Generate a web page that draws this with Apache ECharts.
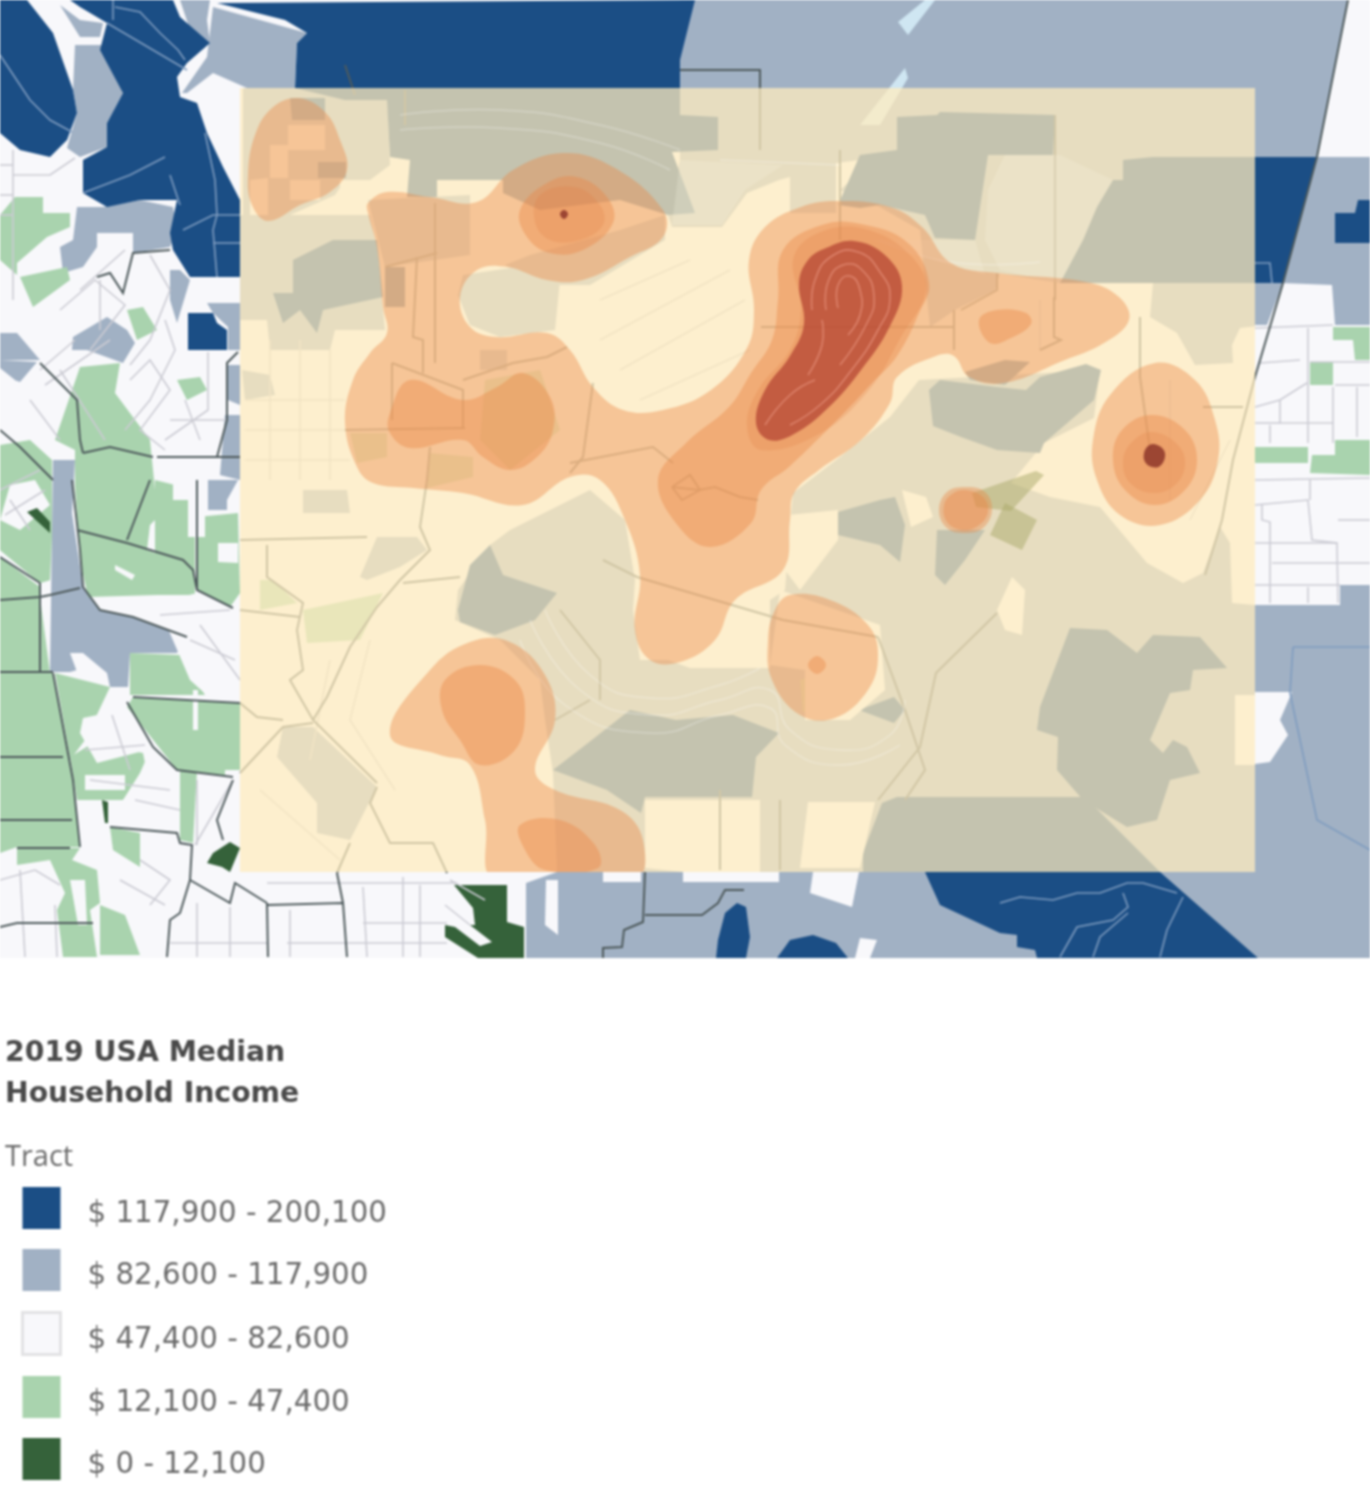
<!DOCTYPE html>
<html><head><meta charset="utf-8">
<script src="https://cdn.jsdelivr.net/npm/echarts@6/dist/echarts.min.js"></script>
<style>html,body{margin:0;padding:0;background:#fff}#chart{width:1370px;height:1500px;filter:blur(.9px)}</style>
</head><body><div id="chart"></div>
<script>
const legendTitle='2019 USA Median\nHousehold Income';
const legendSub='Tract';
const incomeClasses=['$ 117,900 - 200,100','$ 82,600 - 117,900','$ 47,400 - 82,600','$ 12,100 - 47,400','$ 0 - 12,100'];
const mapBase=[[[0,0],[1370,0],[1370,958],[0,958]]];
const overlayRect=[[[240,88],[1255,88],[1255,872],[240,872]]];

const tractsSlate=[
 [[680,0],[1348,0],[1317,157],[1370,157],[1370,325],[1335,325],[1332,285],[1282,283],[1060,283],[997,273],[950,265],[920,230],[876,205],[840,190],[876,158],[836,163],[836,213],[790,213],[790,177],[779,180],[747,193],[722,227],[672,227],[668,215],[680,160]],
 [[1153,283],[1283,283],[1267,325],[1240,328],[1232,345],[1233,363],[1195,365],[1177,333],[1150,317]],
 [[790,527],[793,493],[840,457],[890,417],[919,380],[1100,370],[1094,418],[1044,443],[1011,483],[1050,497],[1100,507],[1147,563],[1183,583],[1203,573],[1220,527],[1230,543],[1232,603],[1255,605],[1340,605],[1340,585],[1370,585],[1370,958],[526,958],[526,883],[557,872],[553,773],[545,720],[540,680],[500,640],[455,620],[458,590],[490,545],[510,530],[560,505],[590,490],[625,520],[635,580],[633,610],[640,660],[668,660],[690,668],[770,668],[770,600],[785,590]],
 [[243,88],[387,88],[390,165],[370,180],[345,180],[335,195],[290,215],[243,235]],
 [[240,215],[370,215],[377,247],[385,330],[335,330],[330,350],[270,350],[267,320],[240,320]],
 [[303,490],[347,490],[350,513],[303,513]],
 [[360,577],[377,537],[417,537],[427,550],[400,567],[367,580]],
 [[283,727],[313,727],[377,787],[350,840],[317,833],[317,803],[277,757]],
 [[463,275],[510,268],[560,280],[555,330],[500,337],[470,325],[458,295]],
 [[480,350],[507,350],[507,370],[480,370]],
 [[242,370],[270,375],[275,395],[245,400]],
 [[368,200],[470,195],[470,255],[385,267]],
 [[505,265],[530,255],[620,230],[665,215],[665,240],[590,285],[545,285]],
 [[920,230],[1000,273],[995,290],[955,310],[930,327],[925,280]],
 [[75,45],[105,45],[123,93],[107,123],[107,147],[80,157],[67,148],[77,113],[73,90]],
 [[77,207],[103,207],[140,200],[173,207],[177,230],[170,247],[133,253],[133,233],[97,233],[97,247],[83,267],[63,273],[60,247],[73,240]],
 [[213,7],[307,33],[297,43],[295,88],[247,88],[213,73],[187,93],[182,93],[207,57]],
 [[180,0],[210,0],[207,20],[210,43],[190,30]],
 [[60,5],[80,20],[103,23],[100,37],[80,37]],
 [[73,337],[107,317],[127,330],[135,343],[123,363],[87,350],[72,350]],
 [[0,333],[17,333],[40,360],[0,360]],
 [[0,360],[37,362],[20,382],[0,375]],
 [[170,270],[180,270],[190,280],[177,323],[170,300]],
 [[207,303],[240,303],[240,350],[228,350],[228,327],[213,313]],
 [[228,365],[240,365],[240,405],[228,400]],
 [[225,415],[240,415],[240,480],[220,475]],
 [[208,480],[238,480],[227,500],[227,510],[208,510]],
 [[53,460],[75,460],[72,513],[83,587],[100,610],[133,617],[187,637],[177,653],[130,653],[128,687],[110,687],[107,673],[77,670],[70,672],[50,672]]
];
const tractsNavy=[
 [[0,0],[27,0],[53,33],[73,90],[77,113],[67,140],[50,157],[20,150],[0,133]],
 [[70,0],[173,0],[180,17],[210,43],[187,63],[177,77],[180,97],[197,103],[207,133],[223,167],[240,200],[240,277],[190,277],[173,250],[170,233],[177,200],[140,200],[107,207],[83,193],[83,160],[107,147],[107,123],[123,93],[100,50],[107,23],[80,7]],
 [[217,3],[285,20],[307,33],[297,43],[295,88],[345,100],[387,100],[390,157],[410,160],[407,197],[437,197],[437,180],[503,180],[503,193],[540,210],[620,200],[668,215],[695,213],[672,152],[718,150],[718,117],[680,115],[680,60],[695,0]],
 [[838,205],[860,155],[897,150],[897,117],[937,115],[940,112],[1055,115],[1053,155],[988,155],[975,240],[935,238],[925,215],[880,205],[860,208]],
 [[1113,180],[1123,180],[1123,160],[1153,157],[1317,157],[1283,283],[1060,283],[1083,240],[1097,207]],
 [[929,390],[940,380],[997,387],[1026,390],[1040,377],[1086,364],[1101,370],[1094,400],[1044,443],[1040,453],[997,450],[961,437],[933,426]],
 [[965,372],[1005,360],[1030,362],[1005,385],[970,380]],
 [[838,512],[880,500],[895,497],[905,525],[900,562],[880,545],[838,535]],
 [[937,530],[985,530],[965,560],[945,585],[935,575]],
 [[458,610],[470,565],[490,545],[503,575],[557,593],[535,620],[495,635],[460,622]],
 [[553,770],[588,743],[630,710],[676,720],[733,715],[779,733],[756,757],[752,797],[645,797],[641,813],[607,790]],
 [[859,710],[894,697],[905,710],[894,723]],
 [[863,853],[882,803],[897,797],[1085,797],[1160,872],[863,872]],
 [[1037,730],[1040,707],[1070,628],[1107,630],[1137,653],[1153,635],[1200,637],[1227,668],[1193,670],[1190,690],[1170,693],[1150,740],[1163,753],[1173,740],[1187,747],[1200,773],[1170,780],[1157,820],[1127,827],[1083,800],[1057,770],[1058,737]],
 [[293,260],[333,240],[377,240],[383,297],[323,310],[317,333],[300,310],[283,323],[273,293],[293,293]],
 [[385,267],[405,267],[405,307],[385,307]],
 [[290,98],[325,98],[325,120],[292,120]],
 [[318,162],[346,162],[346,178],[318,178]],
 [[188,313],[213,313],[217,323],[227,330],[227,350],[188,350]],
 [[1335,213],[1355,213],[1358,200],[1370,200],[1370,243],[1335,243]],
 [[725,913],[737,903],[746,907],[750,937],[746,958],[716,958],[718,940]],
 [[777,958],[790,940],[813,935],[836,943],[848,958]],
 [[925,872],[1160,872],[1258,958],[1037,958],[1035,950],[1017,947],[1017,935],[1000,933],[940,905]]
];
const tractsGreen=[
 [[15,197],[43,197],[43,213],[70,213],[70,227],[47,237],[17,263],[17,275],[0,260],[0,215]],
 [[20,277],[67,267],[70,280],[33,307]],
 [[80,367],[120,363],[115,393],[150,440],[155,490],[155,480],[195,490],[195,595],[157,595],[88,597],[80,560],[75,487],[75,450],[55,440]],
 [[127,310],[143,307],[157,330],[137,340]],
 [[177,380],[200,377],[207,390],[187,400]],
 [[0,445],[30,440],[52,460],[52,537],[50,580],[40,583],[0,550]],
 [[0,550],[17,523],[50,537],[50,580],[40,583]],
 [[0,557],[40,587],[40,597],[0,600]],
 [[0,600],[40,597],[50,673],[0,673]],
 [[0,673],[53,673],[73,780],[80,847],[17,847],[0,853]],
 [[197,517],[238,513],[240,593],[230,607],[197,590]],
 [[130,653],[180,655],[205,695],[130,695]],
 [[133,697],[240,703],[240,777],[177,770],[127,707]],
 [[55,673],[110,687],[85,740],[70,760]],
 [[70,757],[93,743],[143,753],[147,773],[123,800],[77,800]],
 [[110,827],[140,833],[140,867],[113,850]],
 [[180,770],[197,770],[193,843],[180,840]],
 [[17,848],[80,848],[72,860],[97,870],[100,903],[90,910],[97,957],[63,957],[57,910],[65,893],[50,860],[17,865]],
 [[100,905],[125,915],[140,955],[100,955]],
 [[1333,327],[1370,327],[1370,360],[1355,360],[1353,340],[1333,340]],
 [[1310,362],[1333,362],[1333,385],[1310,385]],
 [[1255,447],[1308,447],[1308,463],[1255,463]],
 [[1312,455],[1335,455],[1335,440],[1370,440],[1370,475],[1310,473]],
 [[303,610],[383,593],[360,640],[307,643]],
 [[260,580],[273,580],[297,603],[260,610]],
 [[485,380],[540,370],[560,430],[510,470],[480,440]],
 [[350,433],[387,433],[387,457],[357,463]],
 [[430,453],[473,457],[473,477],[427,488]],
 [[800,680],[815,675],[820,710],[803,712]]
];
const tractsWhite=[
 [[788,515],[838,510],[838,540],[800,590],[785,570]],
 [[780,590],[880,625],[885,690],[850,720],[805,720],[805,670],[770,665]],
 [[997,610],[1012,577],[1025,590],[1022,635],[1005,630]],
 [[902,490],[926,497],[933,517],[911,527]],
 [[645,800],[760,800],[760,880],[645,868]],
 [[808,802],[875,802],[860,868],[800,868]],
 [[603,872],[641,872],[641,882],[603,882]],
 [[683,872],[779,872],[779,882],[683,882]],
 [[813,872],[859,872],[852,907],[810,893]],
 [[546,880],[558,880],[558,935],[545,925]],
 [[860,938],[877,940],[870,958],[855,958]],
 [[1255,692],[1292,692],[1280,720],[1288,735],[1270,762],[1255,764]],
 [[1235,695],[1255,695],[1255,765],[1235,765]],
 [[288,125],[325,125],[325,150],[288,150]],
 [[270,145],[288,145],[288,178],[270,178]],
 [[290,180],[320,180],[320,200],[290,200]],
 [[250,180],[268,178],[268,215],[250,215]],
 [[340,180],[367,180],[367,213],[340,213]],
 [[1255,325],[1333,325],[1333,362],[1255,362]],
 [[150,525],[155,520],[155,553],[147,550]],
 [[218,543],[238,543],[238,563],[218,562]],
 [[173,480],[205,480],[205,537],[188,537],[188,500],[173,500]],
 [[115,565],[135,575],[132,580],[115,570]],
 [[70,653],[83,653],[107,673],[107,685],[77,672]],
 [[108,698],[125,698],[125,710],[147,750],[97,763],[80,733],[83,718],[107,713]],
 [[147,757],[177,773],[180,830],[113,823],[107,813],[77,800],[123,800],[140,773]],
 [[157,603],[197,593],[230,607],[240,613],[240,700],[210,698],[190,680]],
 [[193,690],[198,690],[198,730],[193,730]],
 [[85,775],[125,775],[125,790],[85,790]],
 [[70,880],[85,880],[87,925],[78,925]],
 [[225,770],[240,770],[240,800],[225,800]],
 [[0,368],[15,380],[0,395]],
 [[10,485],[35,480],[50,505],[20,530],[0,520]]
];
const tractsDark=[
 [[27,512],[37,508],[50,522],[50,533]],
 [[207,863],[213,853],[230,842],[240,848],[230,872],[222,867]],
 [[454,885],[507,885],[507,922],[524,927],[524,958],[478,958],[445,937],[445,925],[455,927],[480,946],[492,942],[470,925],[475,925],[473,908]],
 [[102,800],[108,802],[108,823],[105,823]]
];
const waterBits=[
 [[898,22],[925,0],[935,0],[908,35]],
 [[860,125],[905,68],[908,78],[880,125]]
];
const paleTracts=[
 [[1005,155],[1060,155],[1113,180],[1097,207],[1083,240],[1060,283],[1000,270],[985,240],[988,190]],
 [[870,240],[935,240],[975,240],[985,275],[950,265]],
 [[680,160],[783,165],[745,190],[722,225],[672,225]]
];
const oliveTracts=[
 [[1005,503],[1037,520],[1022,550],[990,535]],
 [[972,493],[1036,471],[1044,475],[1011,511],[976,507]]
];
const linesOnNavy=[
 [[0,55],[20,85],[30,100],[50,120],[72,132]],
 [[107,23],[187,70]],
 [[115,7],[140,12],[160,33],[178,50],[185,60]],
 [[113,0],[113,20]],
 [[83,193],[130,175],[165,157]],
 [[205,133],[215,180],[217,215],[213,230],[217,277]],
 [[183,230],[213,215],[240,215]],
 [[213,243],[240,243]],
 [[170,175],[180,205]],
 [[1000,903],[1020,897],[1053,900],[1077,893],[1100,893],[1127,883],[1143,883],[1177,893]],
 [[1060,957],[1077,927],[1113,920],[1128,907],[1123,893]],
 [[1093,957],[1100,937],[1128,913]],
 [[1160,957],[1167,930],[1183,897]],
 [[1255,263],[1270,263],[1272,283]],
 [[1293,647],[1370,647]],
 [[1293,647],[1290,693],[1317,820],[1370,850]]
];
const linesThin=[
 [[13,150],[13,300]],[[13,175],[50,175],[75,158]],[[0,195],[13,195]],[[0,215],[13,215]],
 [[0,165],[13,165]],[[80,290],[125,250]],[[100,280],[100,330]],[[60,310],[95,280],[125,305],[90,350]],
 [[150,255],[170,290],[150,340],[130,365]],[[165,320],[175,350],[150,400],[125,430]],
 [[40,370],[75,340]],[[45,385],[110,340]],[[30,400],[60,440]],[[60,370],[105,440]],
 [[130,380],[150,360],[170,390],[140,430],[165,450]],[[185,400],[200,440]],[[170,420],[227,420]],
 [[208,352],[208,410],[165,440]],
 [[0,490],[40,470]],[[10,500],[30,530]],[[5,515],[45,490]],
 [[160,615],[230,610]],[[190,640],[235,660]],[[200,625],[240,680]],
 [[112,715],[130,770]],[[85,750],[145,745]],[[90,780],[170,790]],[[135,800],[180,810]],
 [[197,780],[197,845]],[[195,845],[233,780]],
 [[0,880],[35,870],[60,885]],[[20,870],[25,957]],[[55,905],[57,957]],[[120,880],[165,905]],[[140,860],[170,880],[150,905]],
 [[267,883],[457,883]],[[287,943],[447,943]],[[363,923],[447,923]],[[363,887],[367,957]],[[403,877],[403,957]],
 [[197,903],[197,957]],[[230,907],[230,957]],[[290,910],[290,957]],[[170,943],[267,943]],
 [[450,880],[485,900]],[[445,905],[470,925]],[[420,885],[420,957]],
 [[1255,328],[1333,325]],[[1308,328],[1308,443]],[[1260,363],[1300,360]],[[1310,362],[1370,362]],
 [[1255,407],[1280,400],[1307,383]],[[1280,400],[1280,423],[1333,423]],[[1333,387],[1333,443]],
 [[1255,423],[1280,423]],[[1270,425],[1270,443]],[[1357,387],[1357,437]],[[1335,385],[1370,385]],
 [[1255,505],[1308,500],[1312,540],[1337,543],[1338,603]],[[1262,505],[1262,520],[1270,522],[1270,603]],
 [[1255,543],[1337,543]],[[1272,563],[1340,563]],[[1255,585],[1340,585]],[[1308,587],[1308,603]],
 [[1310,500],[1310,480]],[[1338,520],[1370,520]],[[1340,563],[1370,563]],[[1255,480],[1370,478]],
 [[270,340],[270,480]],[[300,340],[300,480]],[[330,350],[330,480]],[[245,400],[345,400]],[[245,430],[345,430]],[[245,460],[350,460]],
 [[330,660],[310,760]],[[370,640],[350,720],[395,790]],[[260,790],[340,860]],
 [[600,300],[690,260]],[[600,340],[730,270]],[[620,370],[745,300]],[[640,400],[750,350]],
 [[1170,380],[1170,500]],[[1190,520],[1230,440]],[[1040,300],[1040,350]]
];
const linesDark=[
 [[97,277],[110,273],[123,293],[133,253],[170,250]],
 [[40,363],[77,400],[80,440],[83,453]],
 [[217,457],[227,420],[227,363],[238,352]],
 [[157,457],[217,457],[240,457]],
 [[83,453],[110,447],[153,457]],
 [[0,430],[20,447],[53,480]],
 [[72,480],[80,550],[83,587],[100,610],[133,617],[187,637]],
 [[0,600],[40,597],[50,595],[80,588]],
 [[0,672],[53,672]],[[40,583],[40,672]],
 [[53,673],[73,780],[80,847]],
 [[0,757],[63,757]],[[0,820],[72,820]],[[0,557],[40,583]],
 [[77,530],[127,543],[183,560],[193,570],[197,590],[233,608]],
 [[127,540],[150,480]],[[197,480],[197,590]],
 [[133,697],[240,703]],[[127,702],[153,747],[177,770],[233,777]],
 [[233,780],[217,820],[223,840]],
 [[110,827],[177,833],[180,843],[192,845],[190,880]],
 [[190,880],[230,903],[235,883],[267,903]],
 [[267,903],[268,957]],[[268,905],[343,903],[347,957]],[[337,873],[343,903]],
 [[190,880],[180,913],[170,920],[167,957]],
 [[17,848],[70,848]],[[0,927],[17,923],[93,923]],
 [[645,872],[643,922],[624,930],[622,947],[603,948],[603,958]],
 [[645,915],[702,915],[718,903],[725,890],[744,890]],
 [[680,70],[760,70],[760,150]],[[345,65],[355,95]],
 [[1348,0],[1317,157],[1283,283],[1255,377],[1233,460],[1222,520],[1205,575]],
 [[392,363],[463,390],[463,427]],[[345,430],[465,428]],[[392,363],[392,420]],
 [[463,380],[513,363],[547,357],[567,347]],
 [[435,203],[435,363]],[[385,267],[437,253]],[[417,257],[413,337],[423,340],[423,373]],
 [[593,383],[583,457],[570,473]],[[570,463],[653,447],[673,463]],
 [[430,447],[427,480],[420,527],[430,550],[400,580],[377,607],[350,647],[327,697],[313,720]],
 [[240,540],[367,537]],[[267,545],[267,577],[303,603],[297,630],[303,670],[290,680],[313,720],[377,783]],
 [[403,583],[460,577]],[[240,773],[283,727],[313,723]],[[240,610],[300,617]],
 [[240,703],[257,717],[283,720]],[[377,787],[370,803],[390,843],[433,843],[447,873]],[[350,843],[337,873]],
 [[672,487],[699,490],[715,487],[740,497],[758,500]],[[672,487],[690,475],[700,490],[682,500],[672,487]],
 [[761,327],[954,327]],[[954,310],[954,350]],[[997,273],[997,290],[961,310]],
 [[1054,297],[1054,337],[1061,340],[1040,350]],[[1140,317],[1140,377],[1150,450]],[[1203,407],[1243,407]],
 [[603,560],[637,577],[783,620],[878,637]],[[997,613],[936,673],[920,747],[878,800]],
 [[840,150],[840,240]],[[1055,115],[1055,300]],[[405,90],[405,125]],
 [[878,637],[905,710],[925,770],[905,800]],[[555,720],[590,700]],[[720,790],[720,870]],
 [[780,800],[780,870]],[[560,610],[600,660],[600,700]]
];
const contourLines=[
 [[530,620],[580,690],[650,715],[720,700],[770,690],[790,730],[840,750],[890,735],[905,700]],
 [[545,610],[590,675],[650,698],[720,685],[760,668]],
 [[520,640],[565,705],[650,733],[720,715],[770,708],[785,745],[840,765],[900,745]],
 [[400,115],[500,110],[600,125],[680,150]],
 [[400,130],[500,128],[600,143],[670,170]],
 [[880,240],[950,262],[1040,262]],[[720,160],[840,165]]
];
const coreLines=[
 [[812,310],[815,280],[832,256],[858,252],[880,272],[890,298],[878,330],[850,372],[820,405],[790,425]],
 [[826,310],[828,282],[843,265],[862,270],[874,296],[866,325],[840,365]],
 [[838,308],[838,285],[850,276],[860,290],[860,315],[848,335]],
 [[808,375],[822,345],[822,320]],
 [[765,425],[790,395],[815,380]]
];

const heatOuter=[
 [[298,98],[325,112],[340,140],[347,170],[330,192],[300,205],[268,221],[252,205],[248,175],[255,135],[272,108]],
 [[368,203],[387,192],[430,197],[477,202],[513,170],[563,153],[613,167],[663,210],[663,237],[630,257],[583,280],[547,280],[507,267],[477,270],[460,297],[470,327],[497,337],[547,333],[570,350],[593,387],[623,410],[663,410],[711,390],[747,348],[754,310],[749,260],[765,227],[801,207],[836,201],[890,207],[922,227],[951,263],[997,273],[1086,282],[1119,297],[1129,320],[1104,343],[1065,360],[1004,383],[969,377],[954,356],[936,356],[897,377],[890,403],[861,440],[819,470],[794,493],[790,520],[783,570],[735,600],[715,640],[680,662],[650,660],[635,630],[640,575],[625,520],[600,480],[570,477],[523,505],[463,493],[413,488],[373,483],[357,467],[345,423],[353,380],[370,353],[387,333],[383,307],[377,247],[368,213]],
 [[790,595],[830,600],[868,625],[878,655],[868,690],[835,718],[800,715],[772,680],[768,640],[775,610]],
 [[390,735],[430,670],[470,642],[510,642],[545,675],[555,720],[535,770],[555,790],[620,810],[643,840],[635,880],[495,880],[485,820],[470,765],[440,755]],
 [[1155,363],[1195,380],[1215,420],[1218,460],[1200,500],[1160,525],[1120,515],[1097,480],[1093,440],[1110,395]],
 [[965,487],[985,492],[992,510],[983,528],[965,533],[947,528],[939,510],[947,492]]
];
const heatMiddle=[
 [[1152,415],[1185,430],[1197,460],[1185,490],[1155,505],[1125,490],[1113,460],[1122,430]],
 [[783,250],[822,225],[861,224],[908,243],[929,283],[919,313],[897,356],[872,383],[840,417],[790,466],[761,490],[751,523],[711,547],[679,527],[658,480],[686,443],[729,407],[751,373],[772,340],[778,300]],
 [[520,210],[547,183],[577,177],[607,197],[613,223],[583,250],[550,253],[527,237]],
 [[390,413],[410,380],[463,400],[497,387],[523,373],[550,397],[553,430],[537,457],[510,470],[483,457],[463,440],[410,448],[390,433]],
 [[979,320],[997,310],[1026,313],[1031,324],[1011,338],[990,343]],
 [[817,656],[826,665],[817,674],[808,665]],
 [[445,680],[480,665],[515,680],[525,710],[515,750],[480,765],[460,740],[442,710]],
 [[520,825],[560,820],[595,845],[598,868],[545,870],[525,850]],
 [[965,490],[983,497],[988,512],[978,526],[962,530],[947,522],[944,505],[952,494]]
];
const heatInner=[
 [[794,256],[826,230],[869,230],[911,256],[926,290],[901,337],[869,390],[819,434],[761,450],[747,426],[758,390],[790,350],[801,310]],
 [[1152,432],[1178,445],[1185,465],[1175,485],[1153,493],[1130,483],[1123,462],[1131,443]],
 [[540,195],[575,187],[600,205],[603,225],[580,240],[550,240],[535,222]]
];
const heatCore=[
 [[826,248],[854,241],[886,256],[902,286],[890,326],[861,370],[829,407],[794,434],[769,440],[756,423],[765,390],[790,356],[804,324],[799,283],[808,260]]
];
const heatDots=[
 [[1154,444],[1163,449],[1165,457],[1160,466],[1152,467],[1145,462],[1144,453],[1148,446]],
 [[564,210],[568,214],[564,219],[560,214]]
];

const blue='#1B4E85', slate='#A1B1C4', paleWhite='#F8F8FB', green='#A9D3AE', dark='#35623A';
function polys(name,list,fill,extra){
  extra=extra||{};
  return {type:'custom',name,coordinateSystem:'cartesian2d',silent:true,animation:false,
    itemStyle:{color:fill},data:list.map(p=>p[0]),
    renderItem(params,api){
      const el={type:'polygon',shape:{points:list[params.dataIndex].map(c=>api.coord(c)),smooth:extra.smooth||0},
        style:{fill,stroke:extra.stroke||null,lineWidth:extra.lw||0}};
      if(extra.clip){const a=api.coord(overlayRect[0][0]),b=api.coord(overlayRect[0][2]);
        el.clipPath={type:'rect',shape:{x:a[0],y:a[1],width:b[0]-a[0],height:b[1]-a[1]}};}
      return el;
    }};
}
function paths(name,list,stroke,lw,smooth){
  return {type:'custom',name,coordinateSystem:'cartesian2d',silent:true,animation:false,
    itemStyle:{color:stroke},data:list.map(p=>p[0]),
    renderItem(params,api){
      return {type:'polyline',shape:{points:list[params.dataIndex].map(c=>api.coord(c)),smooth:smooth||0},
        style:{fill:null,stroke,lineWidth:lw}};
    }};
}
const chart=echarts.init(document.getElementById('chart'),null,{renderer:'canvas',width:1370,height:1500});
const heat='rgba(235,135,70,0.40)';
chart.setOption({
  backgroundColor:'#ffffff',animation:false,
  grid:{left:0,right:0,top:0,bottom:0},
  xAxis:{type:'value',min:0,max:1370,show:false},
  yAxis:{type:'value',min:0,max:1500,inverse:true,show:false},
  title:[
    {text:legendTitle,left:0,top:1028,textStyle:{fontFamily:'DejaVu Sans',fontWeight:'bold',fontSize:28.3,lineHeight:41,color:'#4a4a4a'}},
    {text:legendSub,left:0,top:1137,textStyle:{fontFamily:'Open Sans',fontWeight:'normal',fontSize:29,lineHeight:32,color:'#6a6a6a'}}
  ],
  legend:{orient:'vertical',left:21,top:1187,padding:0,itemWidth:38,itemHeight:42,itemGap:20,icon:'rect',selectedMode:false,
    formatter:'{t|{name}}',
    textStyle:{fontFamily:'DejaVu Sans',fontSize:29.3,color:'#6b6b6b',
      rich:{t:{fontFamily:'DejaVu Sans',fontSize:29.3,color:'#6b6b6b',padding:[13,0,0,22]}}},
    data:[{name:incomeClasses[0]},{name:incomeClasses[1]},
      {name:incomeClasses[2],itemStyle:{borderColor:'#e2e2e4',borderWidth:3}},
      {name:incomeClasses[3]},{name:incomeClasses[4]}]},
  series:[
    polys('base',mapBase,paleWhite),
    polys(incomeClasses[1],tractsSlate,slate),
    polys(incomeClasses[0],tractsNavy,blue),
    polys(incomeClasses[3],tractsGreen,green),
    polys(incomeClasses[2],tractsWhite,paleWhite),
    polys(incomeClasses[4],tractsDark,dark),
    polys('water',waterBits,'#CFE6F2'),
    paths('navy lines',linesOnNavy,'#7F9CBF',1.6),
    paths('tract lines',linesThin,'#CBCBD3',1.6),
    paths('county lines',linesDark,'#4E5A5C',2),
    polys('overlay',overlayRect,'rgba(255,236,190,0.74)'),
    polys('pale',paleTracts,'rgba(255,250,232,0.2)'),
    polys('olive',oliveTracts,'rgba(170,170,105,0.5)'),
    paths('contours',contourLines,'rgba(255,255,255,0.28)',1.5,0.5),
    polys('heat 1',heatOuter,heat,{smooth:0.4,clip:true}),
    polys('heat 2',heatMiddle,heat,{smooth:0.4,clip:true}),
    polys('heat 3',heatInner,'rgba(225,120,60,0.2)',{smooth:0.4,clip:true}),
    polys('heat 4',heatCore,'rgba(170,50,40,0.62)',{smooth:0.4,clip:true}),
    paths('core lines',coreLines,'rgba(240,160,140,0.55)',1.6,0.5),
    polys('heat 5',heatDots,'rgba(125,35,30,0.72)',{smooth:0.4})
  ]
});
</script></body></html>
